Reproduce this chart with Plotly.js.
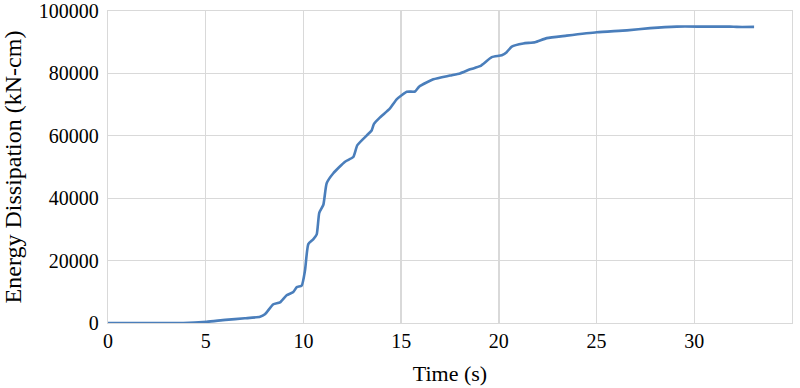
<!DOCTYPE html>
<html>
<head>
<meta charset="utf-8">
<script src="https://cdn.plot.ly/plotly-3.0.1.min.js"></script>
<style>html,body{margin:0;padding:0;background:#fff;}#chart{width:800px;height:388px;}</style>
</head>
<body>
<div id="chart"></div>
<script>
const timeS = [0, 1, 2, 3, 3.85, 5.05, 6, 7, 7.78, 8.03, 8.46, 8.8, 9.14, 9.48, 9.66, 9.91, 10.08, 10.25, 10.5, 10.68, 10.81, 11.02, 11.19, 11.53, 12.13, 12.55, 12.76, 13.32, 13.49, 13.61, 13.92, 14.43, 14.77, 15.29, 15.71, 15.93, 16.65, 17.5, 18.01, 18.53, 19.04, 19.64, 20.15, 20.4, 20.66, 21.25, 21.85, 22.45, 23.47, 25.01, 26.55, 27.74, 29.1, 30.5, 31.83, 32.17, 33.06];
const energy = [0, 0, 0, 0, 0, 400, 1000, 1500, 2000, 2800, 6000, 6600, 8900, 9900, 11500, 11950, 16800, 25300, 26800, 28400, 35300, 37900, 44800, 48000, 51700, 53200, 57000, 60600, 61700, 63800, 65900, 68800, 71700, 74100, 74200, 75800, 78100, 79300, 80000, 81300, 82300, 85200, 85800, 86800, 88600, 89600, 90000, 91300, 92100, 93200, 93800, 94500, 95000, 95000, 95000, 94900, 94900];
const yTicks = [0, 20000, 40000, 60000, 80000, 100000];
const yTickLabels = ['0', '20000', '40000', '60000', '80000', '100000'];
const xTitle = 'Time (s)';
const yTitle = 'Energy Dissipation (kN-cm)';

const font = 'Liberation Serif, Times New Roman, serif';
Plotly.newPlot('chart', [{
  x: timeS, y: energy, type: 'scatter', mode: 'lines',
  line: {color: '#4a7ebb', width: 2.6, shape: 'spline', smoothing: 0.5},
  hoverinfo: 'skip', cliponaxis: false
}], {
  width: 800, height: 388,
  margin: {l: 108, r: 8, t: 11, b: 65},
  paper_bgcolor: '#fff', plot_bgcolor: '#fff',
  showlegend: false,
  font: {family: font, color: '#000', size: 20},
  xaxis: {
    range: [0, 35], dtick: 5, tick0: 0, showgrid: true, gridcolor: '#d9d9d9', gridwidth: 1.3,
    zeroline: false, showline: true, linecolor: '#d9d9d9', linewidth: 1.3, mirror: true,
    ticks: '', tickfont: {family: font, size: 20, color: '#000'},
    title: {text: xTitle, font: {family: font, size: 22, color: '#000'}, standoff: 14},
    automargin: false
  },
  yaxis: {
    range: [0, 100000], tickmode: 'array', tickvals: yTicks, ticktext: yTickLabels,
    showgrid: true, gridcolor: '#d9d9d9', gridwidth: 1.3,
    zeroline: false, showline: true, linecolor: '#d9d9d9', linewidth: 1.3, mirror: true,
    ticks: '', ticklabelstandoff: 4, ticklabeloverflow: 'allow',
    tickfont: {family: font, size: 20, color: '#000'},
    title: {text: yTitle, font: {family: font, size: 24, color: '#000'}, standoff: 14},
    automargin: false
  }
}, {staticPlot: true, displayModeBar: false});
</script>
</body>
</html>
